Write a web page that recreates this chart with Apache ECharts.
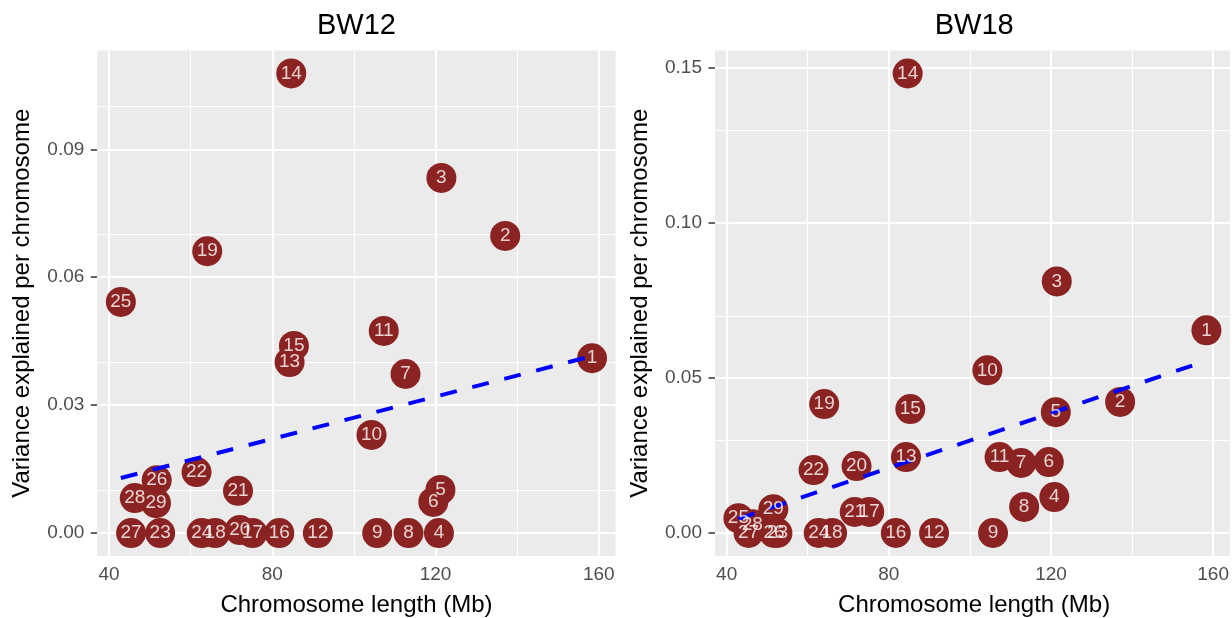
<!DOCTYPE html>
<html>
<head>
<meta charset="utf-8">
<script src="https://cdn.jsdelivr.net/npm/echarts@6/dist/echarts.min.js"></script>
<style>
html,body{margin:0;padding:0;background:#fff;}
#chart{width:1232px;height:618px;}
</style>
</head>
<body>
<div id="chart"></div>
<script>
// ---- data ----
const chromosomes = ['1','2','3','4','5','6','7','8','9','10','11','12','13','14','15','16','17','18','19','20','21','22','23','24','25','26','27','28','29'];
const lengthMb = [158.34, 137.06, 121.43, 120.83, 121.19, 119.46, 112.64, 113.38, 105.71, 104.31, 107.31, 91.16, 84.24, 84.65, 85.30, 81.72, 75.16, 66.00, 64.06, 72.04, 71.60, 61.44, 52.53, 62.71, 42.90, 51.68, 45.41, 46.31, 51.51];
const varBW12 = [0.0410, 0.0697, 0.0833, 0, 0.0101, 0.0073, 0.0373, 0, 0, 0.0230, 0.0474, 0, 0.0401, 0.1078, 0.0439, 0, 0, 0, 0.0661, 0.0007, 0.0099, 0.0143, 0, 0, 0.0542, 0.0124, 0, 0.0082, 0.0070];
const varBW18 = [0.0654, 0.0423, 0.0812, 0.0116, 0.0390, 0.0229, 0.0226, 0.0084, 0, 0.0525, 0.0245, 0, 0.0245, 0.1483, 0.0400, 0, 0.0068, 0, 0.0416, 0.0216, 0.0068, 0.0203, 0, 0, 0.0048, 0, 0, 0.0028, 0.0077];
const trendX = [42.90, 158.34];
const trendBW12 = [0.0129, 0.0415];
const trendBW18 = [0.0046, 0.0556];
const panelTitles = ['BW12', 'BW18'];
const xTicks = [40, 80, 120, 160];
const xMinor = [60, 100, 140];
const yTicksBW12 = [0, 0.03, 0.06, 0.09];
const yMinorBW12 = [0.015, 0.045, 0.075, 0.105];
const yTicksBW18 = [0, 0.05, 0.10, 0.15];
const yMinorBW18 = [0.025, 0.075, 0.125];
const xTitle = 'Chromosome length (Mb)';
const yTitle = 'Variance explained per chromosome';

// ---- layout / style ----
const FONT = '"Liberation Sans", Arial, sans-serif';
const PT_COLOR = '#8B2323';
const grids = [
  {left: 97.3, top: 50.5, width: 518.3, height: 505.5},
  {left: 715, top: 50.5, width: 518.3, height: 505.5}
];
const xRange = [37.128, 164.112];
const yRanges = [[-0.00539, 0.11319], [-0.00742, 0.15572]];

const chart = echarts.init(document.getElementById('chart'), null, {renderer: 'canvas'});

function xAxisFor(i) {
  return {
    type: 'value', gridIndex: i, min: xRange[0], max: xRange[1],
    axisLine: {show: false},
    axisTick: {show: true, customValues: xTicks, length: 6.5, lineStyle: {color: '#333333', width: 1.5}},
    axisLabel: {show: true, customValues: xTicks, margin: 9, color: '#4D4D4D', fontSize: 19, fontFamily: FONT,
      formatter: v => String(Math.round(v))},
    splitLine: {show: false}, minorSplitLine: {show: false}
  };
}
function yAxisFor(i, ticks, dec) {
  return {
    type: 'value', gridIndex: i, min: yRanges[i][0], max: yRanges[i][1],
    axisLine: {show: false},
    axisTick: {show: true, customValues: ticks, length: 6.5, lineStyle: {color: '#333333', width: 1.5}},
    axisLabel: {show: true, customValues: ticks, margin: 13, color: '#4D4D4D', fontSize: 19, fontFamily: FONT,
      formatter: v => v.toFixed(dec)},
    splitLine: {show: false}, minorSplitLine: {show: false}
  };
}
function gridSeries(i, yMajor, yMinor) {
  const common = {z: 1, symbol: ['none','none'], silent: true, animation: false, label: {show: false}, emphasis: {disabled: true}};
  return [
    {type: 'scatter', xAxisIndex: i, yAxisIndex: i, data: [], z: 1, silent: true,
      markLine: Object.assign({}, common, {
        lineStyle: {color: '#FFFFFF', width: 1.1, type: 'solid'},
        data: xMinor.map(v => ({xAxis: v})).concat(yMinor.map(v => ({yAxis: v})))
      })},
    {type: 'scatter', xAxisIndex: i, yAxisIndex: i, data: [], z: 1, silent: true,
      markLine: Object.assign({}, common, {
        lineStyle: {color: '#FFFFFF', width: 2.2, type: 'solid'},
        data: xTicks.map(v => ({xAxis: v})).concat(yMajor.map(v => ({yAxis: v})))
      })}
  ];
}
function pointSeries(i, vals, trendY) {
  const pts = lengthMb.map((x, k) => [x, vals[k], chromosomes[k]]);
  return [
    {type: 'scatter', xAxisIndex: i, yAxisIndex: i, data: pts, z: 2, silent: true,
      symbol: 'circle', symbolSize: 30, itemStyle: {color: PT_COLOR, opacity: 1}, label: {show: false}},
    {type: 'line', xAxisIndex: i, yAxisIndex: i, z: 3, silent: true, symbol: 'none',
      data: trendX.map((x, k) => [x, trendY[k]]),
      lineStyle: {color: '#0000FF', width: 4, type: [17, 16]}},
    {type: 'scatter', xAxisIndex: i, yAxisIndex: i, data: pts, z: 4, silent: true,
      symbol: 'circle', symbolSize: 30, itemStyle: {color: 'rgba(0,0,0,0)', borderWidth: 0},
      label: {show: true, position: 'inside', formatter: p => p.data[2], color: '#FFFFFF', fontSize: 19, fontFamily: FONT}}
  ];
}

const graphics = [];
grids.forEach((g, i) => {
  const cx = g.left + g.width / 2;
  graphics.push({type: 'text', x: cx, y: 26, silent: true,
    style: {text: panelTitles[i], fontSize: 29, fontFamily: FONT, fill: '#000000', align: 'center', verticalAlign: 'middle'}});
  graphics.push({type: 'text', x: cx, y: 605, silent: true,
    style: {text: xTitle, fontSize: 24, fontFamily: FONT, fill: '#000000', align: 'center', verticalAlign: 'middle'}});
  graphics.push({type: 'text', x: g.left - 75, y: g.top + g.height / 2, rotation: Math.PI / 2, silent: true,
    style: {text: yTitle, fontSize: 24, fontFamily: FONT, fill: '#000000', align: 'center', verticalAlign: 'middle'}});
});

chart.setOption({
  animation: false,
  backgroundColor: '#FFFFFF',
  grid: grids.map(g => Object.assign({show: true, backgroundColor: '#EBEBEB', borderWidth: 0, containLabel: false}, g)),
  xAxis: [xAxisFor(0), xAxisFor(1)],
  yAxis: [yAxisFor(0, yTicksBW12, 2), yAxisFor(1, yTicksBW18, 2)],
  series: [].concat(
    gridSeries(0, yTicksBW12, yMinorBW12),
    gridSeries(1, yTicksBW18, yMinorBW18),
    pointSeries(0, varBW12, trendBW12),
    pointSeries(1, varBW18, trendBW18)
  ),
  graphic: graphics
});
</script>
</body>
</html>
